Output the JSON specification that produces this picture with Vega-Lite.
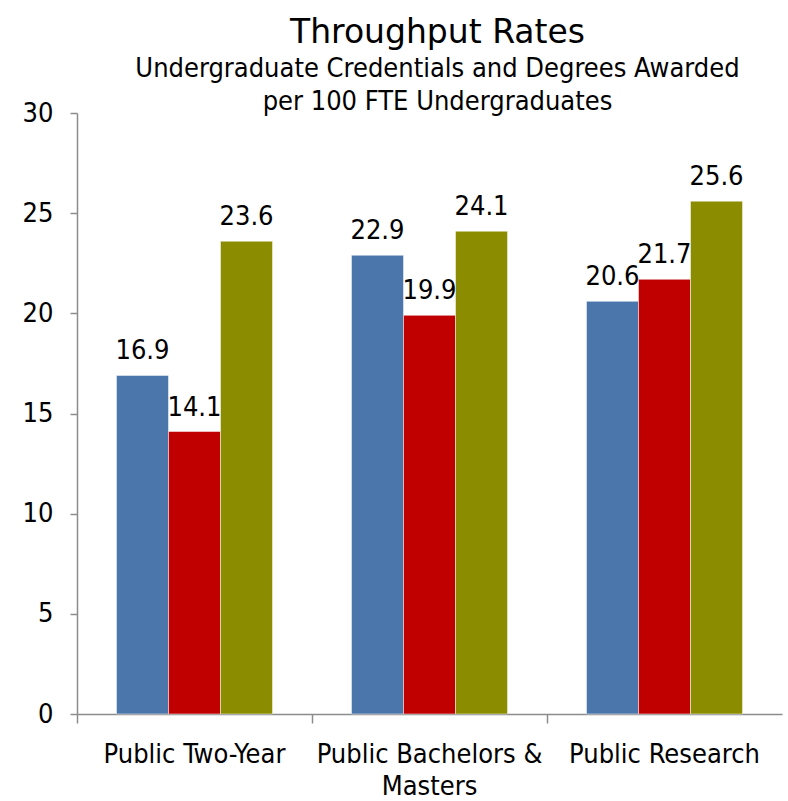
{
  "$schema": "https://vega.github.io/schema/vega-lite/v6.json",
  "width": 705,
  "height": 601,
  "autosize": {"type": "none"},
  "padding": {"left": 77, "top": 113, "right": 6, "bottom": 87},
  "background": "white",
  "title": {
    "text": "Throughput Rates",
    "subtitle": ["Undergraduate Credentials and Degrees Awarded", "per 100 FTE Undergraduates"],
    "anchor": "middle",
    "frame": "group",
    "dx": 8,
    "font": "DejaVu Sans",
    "fontSize": 33,
    "fontWeight": "normal",
    "color": "black",
    "subtitleFont": "DejaVu Sans Condensed",
    "subtitleFontSize": 27,
    "subtitleColor": "black",
    "subtitleLineHeight": 33,
    "subtitlePadding": 6,
    "offset": -16
  },
  "data": {
    "values": [
      {"category": "Public Two-Year", "series": "Series 1", "value": 16.9},
      {"category": "Public Two-Year", "series": "Series 2", "value": 14.1},
      {"category": "Public Two-Year", "series": "Series 3", "value": 23.6},
      {"category": "Public Bachelors & Masters", "series": "Series 1", "value": 22.9},
      {"category": "Public Bachelors & Masters", "series": "Series 2", "value": 19.9},
      {"category": "Public Bachelors & Masters", "series": "Series 3", "value": 24.1},
      {"category": "Public Research", "series": "Series 1", "value": 20.6},
      {"category": "Public Research", "series": "Series 2", "value": 21.7},
      {"category": "Public Research", "series": "Series 3", "value": 25.6}
    ]
  },
  "encoding": {
    "x": {
      "field": "category",
      "type": "nominal",
      "sort": null,
      "title": null,
      "scale": {"paddingInner": 0.336, "paddingOuter": 0.168},
      "axis": {
        "bandPosition": -0.25,
        "labelAngle": 0,
        "labelFont": "DejaVu Sans Condensed",
        "labelFontSize": 27,
        "labelColor": "black",
        "labelPadding": 18,
        "labelLineHeight": 32,
        "labelBound": false,
        "labelOverlap": false,
        "labelLimit": 0,
        "labelExpr": "datum.label == 'Public Bachelors & Masters' ? ['Public Bachelors &', 'Masters'] : datum.label",
        "tickSize": 9,
        "tickColor": "#8c8c8c",
        "domainColor": "#8c8c8c",
        "domainWidth": 1.5,
        "tickWidth": 1.5
      }
    },
    "xOffset": {"field": "series", "type": "nominal", "scale": {"paddingInner": 0, "paddingOuter": 0}},
    "y": {
      "field": "value",
      "type": "quantitative",
      "title": null,
      "scale": {"domain": [0, 30], "nice": false},
      "axis": {
        "values": [0, 5, 10, 15, 20, 25, 30],
        "grid": false,
        "labelFont": "DejaVu Sans Condensed",
        "labelFontSize": 27,
        "labelColor": "black",
        "labelPadding": 17,
        "tickSize": 7,
        "tickColor": "#8c8c8c",
        "domainColor": "#8c8c8c",
        "domainWidth": 1.5,
        "tickWidth": 1.5
      }
    }
  },
  "layer": [
    {
      "mark": {"type": "bar", "stroke": "white", "strokeWidth": 0.5},
      "encoding": {
        "color": {
          "field": "series",
          "type": "nominal",
          "legend": null,
          "scale": {"domain": ["Series 1", "Series 2", "Series 3"], "range": ["#4A76AC", "#C00000", "#8C8C00"]}
        }
      }
    },
    {
      "mark": {"type": "text", "baseline": "alphabetic", "dy": -16, "font": "DejaVu Sans Condensed", "fontSize": 27, "color": "black"},
      "encoding": {
        "text": {"field": "value", "type": "quantitative", "format": ".1f"}
      }
    }
  ],
  "config": {"view": {"stroke": null}}
}
